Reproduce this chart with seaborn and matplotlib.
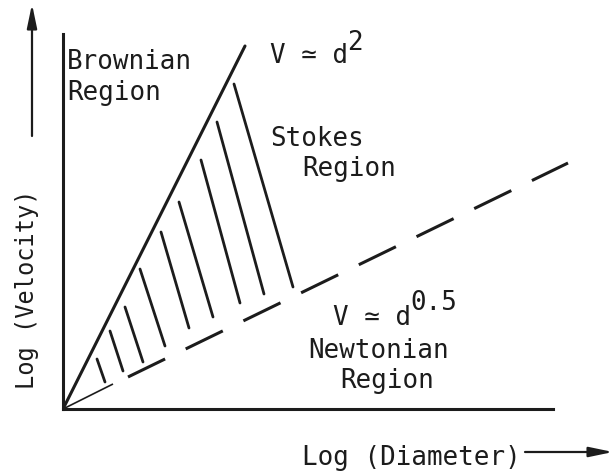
import matplotlib
matplotlib.use("Agg")
import matplotlib.pyplot as plt
import seaborn as sns
import pandas as pd

# ---------------------------------------------------------
# data (log diameter / log velocity, arbitrary schematic units)
# ---------------------------------------------------------
stokes_logd = [0.0, 1.82]
stokes_logv = [0.0, 3.63]

newton_lead_logd = [0.0, 0.50]
newton_lead_logv = [0.0, 0.25]
newton_logd = [0.65, 5.05]
newton_logv = [0.32, 2.46]

# hatch strokes across the Stokes region: (d0, v0, d1, v1)
hatch_d0 = [1.71, 1.54, 1.38, 1.16, 0.98, 0.77, 0.62, 0.47, 0.34]
hatch_v0 = [3.25, 2.87, 2.49, 2.07, 1.77, 1.40, 1.02, 0.78, 0.50]
hatch_d1 = [2.30, 2.01, 1.77, 1.50, 1.26, 1.02, 0.80, 0.60, 0.42]
hatch_v1 = [1.22, 1.15, 1.06, 0.92, 0.81, 0.63, 0.47, 0.38, 0.27]

FONT = "DejaVu Sans Mono"
INK = "#1c1c1c"

sns.set_theme(style="white")
plt.rcParams["font.family"] = [FONT, "DejaVu Sans"]

fig = plt.figure(figsize=(6.14, 4.77), dpi=100)
ax = fig.add_axes([63 / 614, 67 / 477, 490 / 614, 375 / 477])
ax.set_xlim(0, 4.90)
ax.set_ylim(0, 3.75)
ax.set_xticks([])
ax.set_yticks([])
for side in ["top", "right"]:
    ax.spines[side].set_visible(False)
for side in ["left", "bottom"]:
    ax.spines[side].set_color(INK)
    ax.spines[side].set_linewidth(2.2)

# V ~ d^2 line
sns.lineplot(x=stokes_logd, y=stokes_logv, ax=ax, color=INK, lw=2.2)

# V ~ d^0.5 line (thin lead-in then dashes)
ax.plot(newton_lead_logd, newton_lead_logv, color=INK, lw=1.2,
        solid_capstyle="butt")
ax.plot(newton_logd, newton_logv, color=INK, lw=2.2,
        linestyle=(0, (13.5, 7.5)), clip_on=False)

# hatching
hatch = pd.DataFrame({"d0": hatch_d0, "v0": hatch_v0,
                      "d1": hatch_d1, "v1": hatch_v1})
for _, r in hatch.iterrows():
    ax.plot([r.d0, r.d1], [r.v0, r.v1], color=INK, lw=2.0)

# labels
txt = dict(fontsize=18.6, color=INK, family=[FONT, "DejaVu Sans"],
           ha="left", va="baseline")
ax.text(0.04, 3.41, "Brownian", **txt)
ax.text(0.04, 3.10, "Region", **txt)
ax.text(2.07, 3.47, "V \u2243 d", **txt)
ax.text(2.84, 3.60, "2", **txt)
ax.text(2.07, 2.64, "Stokes", **txt)
ax.text(2.39, 2.34, "Region", **txt)
ax.text(2.70, 0.85, "V \u2243 d", **txt)
ax.text(3.47, 1.00, "0.5", **txt)
ax.text(2.45, 0.52, "Newtonian", **txt)
ax.text(2.77, 0.22, "Region", **txt)

ax.text(2.39, -0.55, "Log (Diameter)", **txt)
ax.text(-0.36, 1.21, "Log (Velocity)", fontsize=17, color=INK,
        family=[FONT, "DejaVu Sans"], rotation=90, ha="center", va="center")

arrow = dict(arrowstyle="-|>,head_length=1.2,head_width=0.25", lw=1.6,
             color=INK, shrinkA=0, shrinkB=0)
ax.annotate("", xy=(-0.31, 4.05), xytext=(-0.31, 2.73),
            arrowprops=arrow, annotation_clip=False)
ax.annotate("", xy=(5.50, -0.43), xytext=(4.62, -0.43),
            arrowprops=arrow, annotation_clip=False)

fig.savefig("out.png", dpi=100)
